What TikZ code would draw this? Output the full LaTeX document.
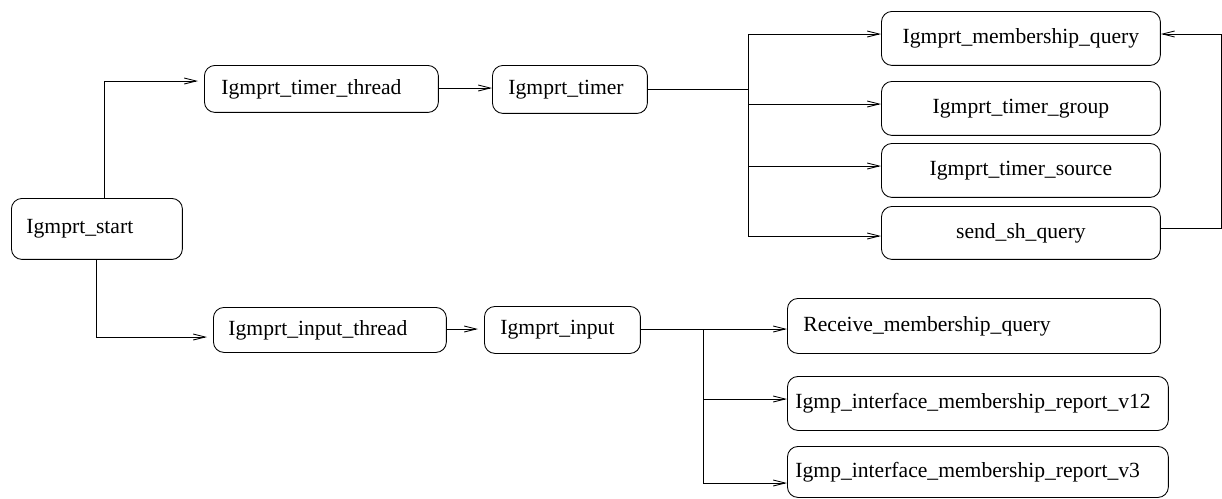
\documentclass[tikz,border=0pt]{standalone}
\usepackage{fontspec}
\setmainfont{Liberation Serif}
\usetikzlibrary{arrows.meta}

\tikzset{
  box/.style={draw, rounded corners=6pt, anchor=north west, inner ysep=0pt,
    font=\fontsize{12.3}{14}\selectfont},
  lbox/.style={box, align=left},
  cbox/.style={box, align=center, minimum width=5.58cm, minimum height=1.08cm},
  arr/.style={-{Straight Barb[length=2.4mm,width=1.2mm]}}
}

\begin{document}
\begin{tikzpicture}[x=0.02cm, y=-0.02cm, line width=0.5pt]
    \useasboundingbox (0,0) rectangle (1222,498);

    % left part
    \node[lbox, text width=2.82cm, inner xsep=0.30cm, minimum height=1.22cm] (start) at (11,198) {Igmprt\_start};
    \node[lbox, text width=4.00cm, inner xsep=0.34cm, minimum height=0.94cm] (tthread) at (204,65) {Igmprt\_timer\_thread};
    \node[lbox, text width=2.46cm, inner xsep=0.32cm, minimum height=0.96cm] (timer) at (492,65) {Igmprt\_timer};
    \node[lbox, text width=4.06cm, inner xsep=0.30cm, minimum height=0.90cm] (ithread) at (213,307) {Igmprt\_input\_thread};
    \node[lbox, text width=2.48cm, inner xsep=0.32cm, minimum height=0.94cm] (input) at (484,306) {Igmprt\_input};

    % timer handlers
    \node[cbox] (mq) at (881,11) {Igmprt\_membership\_query};
    \node[cbox] (grp) at (881,81) {Igmprt\_timer\_group};
    \node[cbox] (src) at (881,143) {Igmprt\_timer\_source};
    \node[cbox, minimum height=1.06cm] (ssq) at (881,206) {send\_sh\_query};

    % input handlers
    \node[lbox, text width=6.82cm, inner xsep=0.32cm, minimum height=1.10cm] (rcv) at (787,298) {Receive\_membership\_query};
    \node[lbox, text width=7.30cm, inner xsep=0.16cm, minimum height=1.08cm] (v12) at (787,376) {Igmp\_interface\_membership\_report\_v12};
    \node[lbox, text width=7.30cm, inner xsep=0.16cm, minimum height=1.02cm] (v3) at (787,446) {Igmp\_interface\_membership\_report\_v3};

    % connectors
    \draw[arr, shorten >=1.2mm] (start.north -| 104,0) |- (tthread.west |- 0,81);
    \draw[arr, shorten >=1.2mm] (start.south -| 96,0) |- (ithread.west |- 0,337);
    \draw[arr] (tthread.east |- 0,88) -- (timer.west |- 0,88);
    \draw[arr, shorten >=1.2mm] (ithread.east |- 0,329) -- (input.west |- 0,329);

    \coordinate (tbus) at (748,89);
    \draw (timer.east |- tbus) -- (tbus);
    \draw (748,34) -- (748,236);
    \foreach \n/\y in {mq/34, grp/104, src/166, ssq/236}
        \draw[arr] (748,\y) -- (\n.west |- 0,\y);
    \draw[arr] (ssq.east |- 0,228) -| (1221,34) -- (mq.east |- 0,34);

    \coordinate (ibus) at (703,329);
    \draw[arr] (input.east |- ibus) -- (rcv.west |- ibus);
    \draw (ibus) -- (703,483);
    \foreach \n/\y in {v12/399, v3/483}
        \draw[arr] (703,\y) -- (\n.west |- 0,\y);
\end{tikzpicture}
\end{document}
